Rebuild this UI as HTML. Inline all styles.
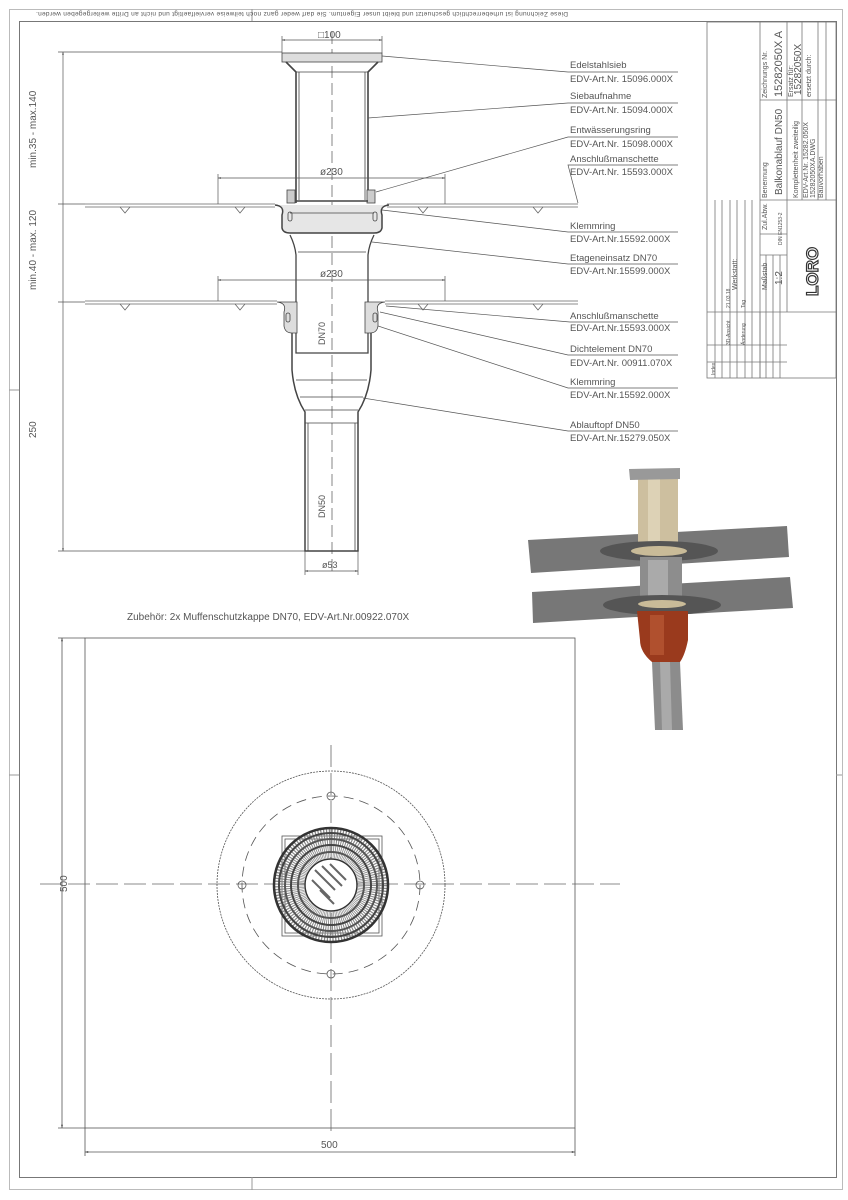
<!DOCTYPE html>
<html><head><meta charset="utf-8"><style>
html,body{margin:0;padding:0;background:#fff;}
svg{display:block;}
text{font-family:"Liberation Sans",sans-serif;fill:#555;}
</style></head><body>
<svg width="848" height="1200" viewBox="0 0 848 1200" xmlns="http://www.w3.org/2000/svg">
<defs>
<marker id="a" viewBox="0 0 10 10" refX="10" refY="5" markerWidth="6" markerHeight="4" orient="auto-start-reverse"><path d="M0 2 L10 5 L0 8 Z" fill="#444"/></marker>
</defs>
<rect width="848" height="1200" fill="#fff"/>
<!-- frames -->
<rect x="9.5" y="9.5" width="833" height="1180" fill="none" stroke="#bbb" stroke-width="1"/>
<rect x="19.5" y="21.5" width="817" height="1156" fill="none" stroke="#777" stroke-width="1"/>
<line x1="252" y1="9" x2="252" y2="21" stroke="#999"/>
<line x1="252" y1="1177" x2="252" y2="1190" stroke="#999"/>
<line x1="9" y1="390" x2="19" y2="390" stroke="#999"/>
<line x1="9" y1="775" x2="19" y2="775" stroke="#999"/>
<line x1="836" y1="775" x2="842" y2="775" stroke="#999"/>
<text x="568" y="-12" transform="rotate(180 568 0)" font-size="6.5" textLength="532">Diese Zeichnung ist urheberrechtlich geschuetzt und bleibt unser Eigentum. Sie darf weder ganz noch teilweise vervielfaeltigt und nicht an Dritte weitergegeben werden.</text>

<!-- title block -->
<g stroke="#777" stroke-width="0.8" fill="none">
<rect x="707" y="22" width="129" height="356"/>
<line x1="760" y1="22" x2="760" y2="378"/>
<line x1="760" y1="100" x2="836" y2="100"/>
<line x1="760" y1="200" x2="836" y2="200"/>
<line x1="707" y1="312" x2="836" y2="312"/>
<line x1="787" y1="22" x2="787" y2="200"/>
<line x1="802" y1="22" x2="802" y2="100"/>
<line x1="818" y1="22" x2="818" y2="200"/>
<line x1="802" y1="100" x2="802" y2="200"/>
<line x1="787" y1="200" x2="787" y2="312"/>
<line x1="760" y1="255" x2="787" y2="255"/>
<line x1="760" y1="234" x2="787" y2="234"/>
<line x1="730" y1="200" x2="730" y2="378"/>
<line x1="760" y1="312" x2="760" y2="378"/>
<line x1="766" y1="255" x2="766" y2="378"/>
<line x1="773" y1="255" x2="773" y2="378"/>
<line x1="780" y1="255" x2="780" y2="378"/>
<line x1="715" y1="200" x2="715" y2="378"/>
<line x1="722" y1="200" x2="722" y2="378"/>
<line x1="737" y1="200" x2="737" y2="378"/>
<line x1="745" y1="200" x2="745" y2="378"/>
<line x1="752" y1="200" x2="752" y2="378"/>
<line x1="707" y1="345" x2="787" y2="345"/>
<line x1="707" y1="362" x2="787" y2="362"/>
<line x1="826" y1="100" x2="826" y2="200"/>
<line x1="826" y1="22" x2="826" y2="100"/>
</g>
<g font-size="7">
<text transform="translate(737 290) rotate(-90)">Werkstatt:</text>
<text transform="translate(767 98) rotate(-90)">Zeichnungs Nr.</text>
<text transform="translate(782 97) rotate(-90)" font-size="11">15282050X  A</text>
<text transform="translate(793 97) rotate(-90)">Ersatz für:</text>
<text transform="translate(801 95) rotate(-90)" font-size="10">15282050X</text>
<text transform="translate(811 97) rotate(-90)">ersetzt durch:</text>
<text transform="translate(767 198) rotate(-90)">Benennung</text>
<text transform="translate(782 195) rotate(-90)" font-size="10">Balkonablauf DN50</text>
<text transform="translate(798 198) rotate(-90)">Komplettenheit zweiteilig</text>
<text transform="translate(808 198) rotate(-90)">EDV-Art.Nr. 15282.050X</text>
<text transform="translate(815 198) rotate(-90)">15282050XA.DWG</text>
<text transform="translate(823 198) rotate(-90)">Bauvorhaben</text>
<text transform="translate(767 230) rotate(-90)">Zul.Abw.</text>
<text transform="translate(782 245) rotate(-90)" font-size="5">DIN EN1253-2</text>
<text transform="translate(767 290) rotate(-90)">Maßstab</text>
<text transform="translate(782 285) rotate(-90)" font-size="10">1:2</text>
<text transform="translate(730 345) rotate(-90)" font-size="5">3D-Ansicht</text>
<text transform="translate(745 345) rotate(-90)" font-size="5">Änderung</text>
<text transform="translate(730 308) rotate(-90)" font-size="5">21.03.18</text>
<text transform="translate(745 308) rotate(-90)" font-size="5">Tag</text>
<text transform="translate(715 375) rotate(-90)" font-size="5">Index</text>
</g>
<text transform="translate(818 296) rotate(-90)" font-size="17" font-weight="bold" style="fill:none" stroke="#333" stroke-width="1.2">LORO</text>

<!-- ============ SECTION VIEW ============ -->
<g stroke="#444" stroke-width="0.8" fill="none">
<line x1="332" y1="32" x2="332" y2="575" stroke-dasharray="12,5" stroke="#666"/>
<rect x="282" y="53" width="100" height="9" fill="#ddd"/>
<path d="M286 62 L296 72 L296 203 M378 62 L368 72 L368 203" stroke-width="1.6"/>
<path d="M299 72 L299 200 M365 72 L365 200"/>
<line x1="296" y1="72" x2="368" y2="72"/>
<rect x="287" y="190" width="8" height="13" fill="#ccc"/>
<rect x="367" y="190" width="8" height="13" fill="#ccc"/>
<line x1="296" y1="201" x2="368" y2="201" stroke-width="1.6"/>
<path d="M85 204 L275 204 M387 204 L578 204 M85 207 L275 207 M387 207 L578 207" stroke="#666"/>
<path d="M120 207 l5 6 l5 -6 M235 207 l5 6 l5 -6 M418 207 l5 6 l5 -6 M533 207 l5 6 l5 -6" stroke="#666"/>
<path d="M275 205 Q285 206 282 215 L282 228 Q283 233 290 233 L374 233 Q381 233 382 228 L382 215 Q379 206 389 205" stroke-width="1.5" fill="#e6e6e6"/>
<rect x="288" y="212" width="4" height="9" rx="2"/><rect x="373" y="212" width="4" height="9" rx="2"/>
<line x1="290" y1="213" x2="374" y2="213"/>
<path d="M290 235 Q295 245 296 255 L296 353 L368 353 L368 255 Q369 245 374 235" stroke-width="1.3"/>
<line x1="298" y1="252" x2="366" y2="252"/>
<path d="M85 301 L277 301 M385 301 L578 301 M85 304 L277 304 M385 304 L578 304" stroke="#666"/>
<path d="M120 304 l5 6 l5 -6 M235 304 l5 6 l5 -6 M418 304 l5 6 l5 -6 M533 304 l5 6 l5 -6" stroke="#666"/>
<path d="M277 302 Q287 303 284 312 L284 326 Q285 333 292 333 L297 333 L297 302 Z" fill="#ddd"/>
<path d="M385 302 Q375 303 378 312 L378 326 Q377 333 370 333 L365 333 L365 302 Z" fill="#ddd"/>
<rect x="286" y="313" width="4" height="9" rx="2"/><rect x="373" y="313" width="4" height="9" rx="2"/>
<path d="M292 333 L292 370 Q294 395 305 412 L305 551 L358 551 L358 412 Q369 395 371 370 L371 333" stroke-width="1.5"/>
<line x1="296" y1="380" x2="367" y2="380"/>
<line x1="300" y1="397" x2="363" y2="397"/>
<line x1="305" y1="410" x2="358" y2="410"/>
<line x1="305" y1="423" x2="358" y2="423"/>
<line x1="308" y1="423" x2="308" y2="551"/>
<line x1="355" y1="423" x2="355" y2="551"/>
</g>
<g stroke="#555" stroke-width="0.7" fill="none">
<line x1="282" y1="40" x2="382" y2="40" marker-start="url(#a)" marker-end="url(#a)"/><line x1="282" y1="36" x2="282" y2="53"/><line x1="382" y1="36" x2="382" y2="53"/>
<line x1="218" y1="178" x2="445" y2="178" marker-start="url(#a)" marker-end="url(#a)"/><line x1="218" y1="174" x2="218" y2="204"/><line x1="445" y1="174" x2="445" y2="204"/>
<line x1="218" y1="280" x2="445" y2="280" marker-start="url(#a)" marker-end="url(#a)"/><line x1="218" y1="276" x2="218" y2="301"/><line x1="445" y1="276" x2="445" y2="301"/>
<line x1="305" y1="571" x2="358" y2="571" marker-start="url(#a)" marker-end="url(#a)"/><line x1="305" y1="551" x2="305" y2="575"/><line x1="358" y1="551" x2="358" y2="575"/>
<line x1="63" y1="52" x2="63" y2="551" marker-start="url(#a)" marker-end="url(#a)"/>
<line x1="58" y1="52" x2="282" y2="52"/>
<line x1="58" y1="551" x2="305" y2="551"/>
<line x1="58" y1="204" x2="85" y2="204"/>
<line x1="58" y1="302" x2="85" y2="302"/>
</g>
<g font-size="10">
<text x="318" y="38">□100</text>
<text x="320" y="175">ø230</text>
<text x="320" y="277">ø230</text>
<text x="322" y="568" font-size="9">ø53</text>
<text transform="translate(36 168) rotate(-90)">min.35 - max.140</text>
<text transform="translate(36 290) rotate(-90)">min.40 - max. 120</text>
<text transform="translate(36 438) rotate(-90)">250</text>
<text transform="translate(325 345) rotate(-90)" font-size="9">DN70</text>
<text transform="translate(325 518) rotate(-90)" font-size="9">DN50</text>
</g>
<g stroke="#555" stroke-width="0.7" fill="none">
<path d="M382 56 L568 72 L678 72"/>
<path d="M368 118 L568 103 L678 103"/>
<path d="M376 192 L568 137 L678 137"/>
<path d="M578 203 L568 165 L678 165"/>
<path d="M382 210 L568 232 L678 232"/>
<path d="M372 242 L568 264 L678 264"/>
<path d="M386 306 L570 322 L678 322"/>
<path d="M380 312 L568 355 L678 355"/>
<path d="M378 326 L568 388 L678 388"/>
<path d="M363 398 L568 431 L678 431"/>
</g>
<g font-size="9.5">
<text x="570" y="68">Edelstahlsieb</text><text x="570" y="82">EDV-Art.Nr. 15096.000X</text>
<text x="570" y="99">Siebaufnahme</text><text x="570" y="113">EDV-Art.Nr. 15094.000X</text>
<text x="570" y="133">Entwässerungsring</text><text x="570" y="147">EDV-Art.Nr. 15098.000X</text>
<text x="570" y="162">Anschlußmanschette</text><text x="570" y="175">EDV-Art.Nr. 15593.000X</text>
<text x="570" y="229">Klemmring</text><text x="570" y="242">EDV-Art.Nr.15592.000X</text>
<text x="570" y="261">Etageneinsatz DN70</text><text x="570" y="274">EDV-Art.Nr.15599.000X</text>
<text x="570" y="319">Anschlußmanschette</text><text x="570" y="331">EDV-Art.Nr.15593.000X</text>
<text x="570" y="352">Dichtelement DN70</text><text x="570" y="366">EDV-Art.Nr. 00911.070X</text>
<text x="570" y="385">Klemmring</text><text x="570" y="398">EDV-Art.Nr.15592.000X</text>
<text x="570" y="428">Ablauftopf DN50</text><text x="570" y="441">EDV-Art.Nr.15279.050X</text>
</g>
<text x="127" y="620" font-size="10">Zubehör:  2x Muffenschutzkappe DN70, EDV-Art.Nr.00922.070X</text>

<!-- ============ 3D VIEW ============ -->
<polygon points="528,540 787,526 789,557 531,573" fill="#777"/>
<polygon points="532,592 790,577 793,608 533,623" fill="#777"/>
<rect x="638" y="478" width="40" height="74" fill="#cdbf9f"/>
<rect x="648" y="478" width="12" height="74" fill="#ddd2b6"/>
<polygon points="629,469 680,468 680,479 630,480" fill="#999"/>
<ellipse cx="659" cy="551" rx="59" ry="10" fill="#555"/>
<ellipse cx="659" cy="551" rx="28" ry="5" fill="#c9bb98"/>
<rect x="640" y="557" width="42" height="44" fill="#8d8d8d"/>
<rect x="648" y="560" width="20" height="40" fill="#aaa"/>
<ellipse cx="662" cy="605" rx="59" ry="10" fill="#555"/>
<ellipse cx="662" cy="604" rx="24" ry="4" fill="#c9bb98"/>
<path d="M637 611 L688 611 L688 640 Q685 655 680 662 L652 662 Q640 652 640 640 Z" fill="#9a3a1d"/>
<rect x="650" y="615" width="14" height="40" fill="#b0502e"/>
<polygon points="652,662 680,662 683,730 655,730" fill="#8c8c8c"/>
<polygon points="660,662 670,662 672,730 662,730" fill="#aaa"/>

<!-- ============ PLAN VIEW ============ -->
<g stroke="#555" stroke-width="0.8" fill="none">
<rect x="85" y="638" width="490" height="490"/>
<line x1="40" y1="884" x2="620" y2="884" stroke-dasharray="22,6" stroke="#666"/>
<line x1="331" y1="745" x2="331" y2="1135" stroke-dasharray="22,6" stroke="#666"/>
<circle cx="331" cy="885" r="114" stroke-dasharray="2,1"/>
<circle cx="331" cy="885" r="89" stroke-dasharray="10,6"/>
<circle cx="331" cy="796" r="4"/><circle cx="331" cy="974" r="4"/>
<circle cx="242" cy="885" r="4"/><circle cx="420" cy="885" r="4"/>
<rect x="282" y="836" width="100" height="100"/>
<rect x="285" y="839" width="94" height="94"/>
<circle cx="331" cy="885" r="42" stroke="#888" stroke-width="30" stroke-dasharray="1,1.2"/>
<circle cx="331" cy="885" r="57" stroke-width="2.5" stroke="#333"/>
<circle cx="331" cy="885" r="52" stroke-width="2" stroke="#444"/>
<circle cx="331" cy="885" r="46" stroke-width="2" stroke="#555"/>
<circle cx="331" cy="885" r="40" stroke-width="2" stroke="#444"/>
<circle cx="331" cy="885" r="33" stroke-width="2" stroke="#555"/>
<circle cx="331" cy="885" r="26" stroke-width="1.5" stroke="#333" fill="#fff"/>
<path d="M315 870 l20 20 M322 866 l20 20 M312 880 l18 18 M330 864 l16 16 M320 890 l14 14" stroke="#666" stroke-width="2"/>
<line x1="62" y1="638" x2="62" y2="1128" marker-start="url(#a)" marker-end="url(#a)"/>
<line x1="58" y1="638" x2="85" y2="638"/><line x1="58" y1="1128" x2="85" y2="1128"/>
<line x1="85" y1="1152" x2="575" y2="1152" marker-start="url(#a)" marker-end="url(#a)"/>
<line x1="85" y1="1128" x2="85" y2="1156"/><line x1="575" y1="1128" x2="575" y2="1156"/>
</g>
<text transform="translate(67 892) rotate(-90)" font-size="10">500</text>
<text x="321" y="1148" font-size="10">500</text>
</svg>
</body></html>
